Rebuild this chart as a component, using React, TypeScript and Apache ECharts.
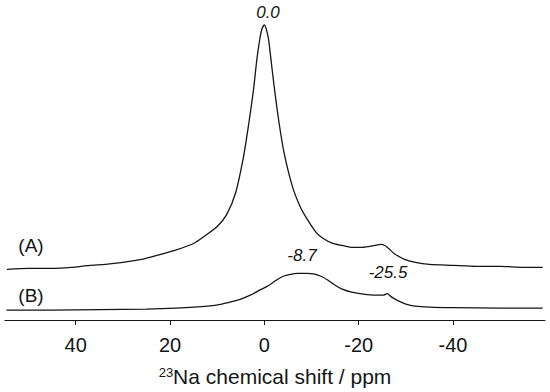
import React, { useEffect, useRef } from "react";
import * as echarts from "echarts";

// Spectrum (A): [chemical shift (ppm), intensity (offset units)]
const shiftA = [54.6, 50, 45, 41, 37, 33.7, 30, 26, 22, 19, 15, 12.5, 10, 8, 6.1, 4.4, 3.3, 2.3, 1.6, 1.0, 0.5, 0, -0.5, -0.9, -1.3, -2.1, -3.0, -4.1, -5.9, -7.5, -9.0, -11, -12.5, -14.5, -16.5, -18.7, -20.5, -22.3, -24.9, -26.1, -27.5, -29.7, -32, -35, -40, -45, -50, -55, -59];
const intensityA = [51, 52, 52, 53, 55, 56, 58, 61, 66, 70, 77, 85, 94, 106, 128, 165, 198, 232, 262, 282, 293, 297, 291, 282, 266, 234, 202, 170, 135, 115, 102, 88, 82, 77, 75, 73, 73, 74, 76, 73, 67, 61, 58, 56, 55, 54, 54, 53, 53];

// Spectrum (B)
const shiftB = [54.7, 45, 35, 25, 18.7, 12, 9, 6.5, 5, 3, 1, -1, -2.5, -4, -5.5, -7, -9, -10.5, -12, -13.5, -15, -16.5, -18.5, -21, -23.5, -25.2, -26, -27, -28.5, -30, -32, -35, -40, -50, -59];
const intensityB = [10, 10, 10.5, 11, 12, 14, 16, 19, 21, 25, 30, 35, 40, 44, 46, 47, 47, 46.5, 44, 40, 35, 31, 28, 26, 25, 25, 26.5, 23, 19, 16, 14, 13, 12.5, 12, 12];

const tickValues = [40, 20, 0, -20, -40];
const traceLabels = ["(A)", "(B)"];
const peakLabels = ["0.0", "-8.7", "-25.5"];

export default function App() {
  const ref = useRef<HTMLDivElement>(null);
  useEffect(() => {
    if (!ref.current) return;
    const chart = echarts.init(ref.current, null, { renderer: "svg" });
    const dataA = shiftA.map((x, i) => [x, intensityA[i]]);
    const dataB = shiftB.map((x, i) => [x, intensityB[i]]);
    const font = "Liberation Sans, Arial, sans-serif";
    const col = "#151515";
    chart.setOption({
      animation: false,
      backgroundColor: "#ffffff",
      grid: { left: 5, right: 5, top: 0, bottom: 70 },
      xAxis: {
        type: "value",
        inverse: true,
        min: -59.5,
        max: 55,
        axisLine: { show: true, onZero: false, lineStyle: { color: col, width: 1.2 } },
        axisTick: { show: true, customValues: tickValues, length: 5, lineStyle: { color: col, width: 1 } },
        axisLabel: { customValues: tickValues, margin: 15, fontSize: 20, color: col, fontFamily: font },
        splitLine: { show: false },
        name: "{sup|23}{main|Na chemical shift / ppm}",
        nameLocation: "middle",
        nameGap: 46,
        nameTextStyle: {
          rich: {
            sup: { fontSize: 13, fontFamily: font, color: col, verticalAlign: "top", padding: [0, 0, 8, 0] },
            main: { fontSize: 21, fontFamily: font, color: col },
          },
        },
      },
      yAxis: { type: "value", min: 0, max: 322, show: false },
      series: [
        { type: "line", data: dataA, symbol: "none", lineStyle: { color: col, width: 1.3 }, smooth: 0.25 },
        { type: "line", data: dataB, symbol: "none", lineStyle: { color: col, width: 1.3 }, smooth: 0.25 },
      ],
      graphic: [
        { type: "text", x: 268, y: 12, style: { text: peakLabels[0], font: `italic 17px ${font}`, fill: col, align: "center", verticalAlign: "middle" } },
        { type: "text", x: 302, y: 255, style: { text: peakLabels[1], font: `italic 17px ${font}`, fill: col, align: "center", verticalAlign: "middle" } },
        { type: "text", x: 388, y: 272, style: { text: peakLabels[2], font: `italic 17px ${font}`, fill: col, align: "center", verticalAlign: "middle" } },
        { type: "text", x: 31, y: 245, style: { text: traceLabels[0], font: `19px ${font}`, fill: col, align: "center", verticalAlign: "middle" } },
        { type: "text", x: 31, y: 295, style: { text: traceLabels[1], font: `19px ${font}`, fill: col, align: "center", verticalAlign: "middle" } },
      ],
    });
    return () => chart.dispose();
  }, []);
  return <div ref={ref} style={{ position: "fixed", left: 0, top: 0, width: 550, height: 392 }} />;
}
